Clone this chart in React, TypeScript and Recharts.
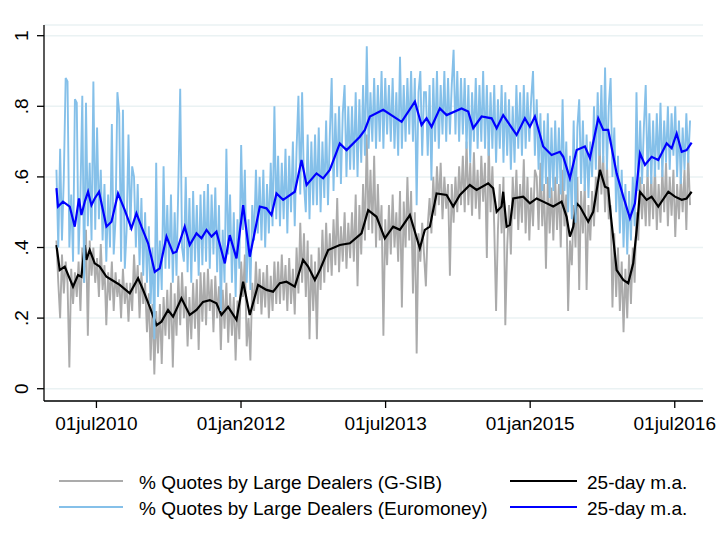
import React from 'react';
import { LineChart, Line, XAxis, YAxis, CartesianGrid } from 'recharts';

const FONT = '"Liberation Sans", Arial, Helvetica, sans-serif';

// Weekly sampling of the daily raw series, starting 1 Feb 2010 (decimal years)
const RAW_START = 2010.085;
const RAW_STEP = 7 / 365.25;

const gsibRaw = [
  .42,.30,.20,.38,.27,.36,.30,.06,.34,.24,.33,.26,.36,.22,.40,.30,.45,.15,.42,.32,
  .40,.30,.37,.26,.41,.28,.35,.18,.33,.25,.36,.22,.33,.26,.31,.20,.34,.24,.30,.19,
  .30,.22,.38,.27,.35,.20,.33,.24,.30,.16,.27,.08,.24,.04,.22,.10,.24,.07,.26,.15,
  .28,.14,.30,.06,.27,.15,.32,.18,.33,.20,.29,.12,.26,.14,.30,.17,.31,.11,.33,.19,
  .33,.18,.34,.22,.31,.16,.32,.20,.29,.11,.28,.17,.30,.13,.27,.15,.26,.08,.25,.14,
  .36,.26,.38,.12,.20,.08,.30,.22,.36,.24,.34,.21,.33,.23,.35,.20,.32,.22,.36,.24,
  .36,.24,.38,.25,.35,.22,.37,.24,.34,.21,.40,.27,.47,.30,.44,.26,.42,.14,.38,.22,
  .36,.14,.40,.28,.45,.30,.47,.33,.44,.32,.48,.35,.54,.33,.46,.36,.50,.34,.47,.37,
  .50,.36,.55,.29,.52,.38,.58,.42,.72,.45,.62,.44,.66,.40,.58,.42,.52,.15,.48,.35,
  .52,.38,.55,.40,.50,.36,.56,.23,.53,.40,.60,.42,.56,.27,.50,.10,.44,.36,.47,.38,
  .29,.46,.54,.44,.60,.49,.63,.52,.64,.48,.60,.51,.58,.32,.58,.47,.60,.50,.63,.52,
  .66,.50,.70,.52,.64,.49,.67,.51,.62,.48,.66,.53,.64,.37,.70,.50,.63,.46,.22,.45,
  .58,.44,.60,.18,.40,.52,.38,.60,.48,.62,.45,.58,.47,.65,.44,.60,.42,.57,.46,.62,
  .60,.45,.64,.46,.58,.34,.60,.44,.57,.42,.60,.45,.58,.40,.62,.46,.55,.22,.42,.35,
  .52,.40,.60,.28,.56,.44,.58,.28,.52,.42,.56,.46,.60,.50,.70,.55,.66,.50,.64,.48,
  .52,.23,.44,.26,.40,.22,.36,.16,.34,.20,.38,.24,.40,.30,.50,.42,.60,.48,.58,.46,
  .62,.46,.60,.48,.63,.45,.58,.47,.62,.50,.64,.46,.60,.49,.62,.43,.58,.48,.60,.50,
  .62,.45,.66,.52,
];

const euroRaw = [
  .62,.40,.68,.42,.60,.88,.87,.40,.55,.36,.82,.81,.38,.55,.83,.30,.81,.46,.64,.42,
  .87,.45,.74,.48,.62,.42,.58,.36,.55,.40,.75,.38,.48,.84,.78,.36,.79,.34,.45,.72,
  .45,.63,.60,.40,.58,.35,.54,.32,.50,.30,.46,.24,.40,.14,.64,.26,.42,.28,.63,.34,
  .52,.34,.55,.30,.50,.32,.58,.85,.40,.36,.60,.33,.54,.30,.56,.36,.52,.32,.55,.35,
  .56,.36,.58,.34,.55,.38,.57,.33,.52,.22,.45,.30,.68,.38,.55,.30,.50,.26,.48,.34,
  .69,.45,.62,.30,.48,.28,.52,.42,.62,.44,.60,.42,.62,.40,.58,.44,.64,.46,.80,.48,
  .66,.46,.64,.48,.68,.44,.66,.50,.70,.46,.68,.83,.55,.84,.58,.50,.72,.48,.70,.52,
  .72,.52,.74,.50,.70,.54,.76,.52,.72,.88,.56,.78,.60,.80,.58,.78,.86,.60,.80,.62,
  .80,.62,.84,.60,.82,.64,.86,.66,.97,.68,.84,.70,.88,.68,.86,.70,.90,.68,.88,.72,
  .86,.70,.88,.68,.84,.66,.94,.68,.86,.70,.88,.72,.90,.70,.88,.52,.84,.90,.66,.84,
  .84,.66,.86,.59,.88,.70,.90,.68,.86,.72,.90,.70,.88,.72,.86,.96,.72,.90,.70,.88,
  .72,.88,.68,.86,.64,.84,.70,.88,.68,.86,.70,.90,.68,.86,.66,.84,.68,.86,.64,.82,
  .68,.86,.64,.84,.66,.82,.62,.80,.64,.86,.68,.84,.66,.86,.68,.84,.70,.82,.90,.66,
  .82,.62,.78,.56,.76,.58,.78,.54,.74,.56,.76,.58,.74,.55,.82,.56,.70,.50,.66,.48,
  .76,.47,.74,.82,.58,.76,.56,.72,.54,.70,.60,.80,.62,.84,.66,.86,.64,.91,.62,.80,
  .88,.60,.74,.50,.66,.44,.62,.40,.58,.38,.56,.42,.60,.46,.84,.56,.76,.58,.74,.86,
  .60,.78,.58,.76,.60,.78,.62,.81,.60,.76,.64,.80,.62,.78,.66,.80,.60,.76,.58,.74,
  .62,.78,.64,.76,
];

// 25-day moving averages, read at irregular dates (decimal years)
const gsibMaDates = [
  2010.085,2010.119,2010.171,2010.257,2010.309,2010.344,2010.379,2010.396,2010.430,2010.482,
  2010.534,2010.604,2010.690,2010.742,2010.846,2010.932,2010.984,2011.053,2011.123,2011.175,
  2011.243,2011.295,2011.382,2011.468,2011.538,2011.606,2011.676,2011.745,2011.797,2011.866,
  2011.953,2012.022,2012.091,2012.177,2012.264,2012.333,2012.402,2012.472,2012.558,2012.644,
  2012.696,2012.766,2012.818,2012.904,2013.025,2013.129,2013.250,2013.319,2013.406,2013.492,
  2013.578,2013.648,2013.752,2013.855,2013.907,2013.959,2014.029,2014.133,2014.201,2014.271,
  2014.374,2014.444,2014.564,2014.616,2014.652,2014.703,2014.720,2014.755,2014.790,2014.824,
  2014.928,2014.997,2015.067,2015.135,2015.239,2015.326,2015.378,2015.412,2015.447,2015.482,
  2015.516,2015.602,2015.654,2015.724,2015.776,2015.810,2015.827,2015.897,2015.966,2016.017,
  2016.069,2016.105,2016.139,2016.208,2016.260,2016.329,2016.433,2016.502,2016.572,2016.623,
  2016.675,
];
const gsibMa = [
  .407,.336,.346,.289,.322,.317,.407,.365,.393,.355,
  .346,.317,.303,.294,.270,.313,.280,.232,.180,.190,
  .223,.204,.256,.209,.223,.246,.251,.242,.209,.232,
  .195,.303,.209,.294,.280,.275,.299,.303,.289,.365,
  .346,.308,.336,.393,.407,.412,.440,.506,.487,.426,
  .459,.450,.492,.398,.450,.459,.553,.549,.516,.549,
  .577,.563,.582,.568,.501,.516,.558,.459,.464,.539,
  .544,.525,.539,.530,.516,.530,.487,.431,.459,.525,
  .516,.473,.501,.620,.572,.568,.516,.336,.308,.299,
  .355,.450,.558,.535,.544,.516,.558,.544,.535,.539,
  .558,
];

const euroMaDates = [
  2010.085,2010.101,2010.153,2010.223,2010.275,2010.319,2010.344,2010.379,2010.413,2010.448,
  2010.482,2010.527,2010.604,2010.656,2010.724,2010.794,2010.863,2010.915,2010.967,2011.036,
  2011.105,2011.157,2011.227,2011.295,2011.330,2011.416,2011.468,2011.538,2011.590,2011.642,
  2011.694,2011.745,2011.832,2011.883,2011.953,2012.022,2012.091,2012.195,2012.264,2012.316,
  2012.368,2012.437,2012.558,2012.628,2012.680,2012.783,2012.852,2012.921,2013.025,2013.095,
  2013.233,2013.285,2013.337,2013.475,2013.666,2013.804,2013.873,2013.925,2013.977,2014.063,
  2014.133,2014.288,2014.357,2014.409,2014.496,2014.600,2014.652,2014.720,2014.790,2014.859,
  2014.945,2014.997,2015.049,2015.135,2015.222,2015.309,2015.343,2015.412,2015.482,2015.568,
  2015.620,2015.706,2015.758,2015.810,2015.897,2015.966,2016.035,2016.087,2016.139,2016.191,
  2016.260,2016.329,2016.416,2016.468,2016.520,2016.572,2016.623,2016.675,
];
const euroMa = [
  .568,.516,.530,.516,.459,.539,.492,.530,.558,.520,
  .539,.558,.459,.473,.553,.506,.454,.497,.459,.412,
  .331,.341,.431,.384,.388,.459,.407,.440,.426,.450,
  .431,.445,.355,.435,.369,.520,.374,.516,.511,.492,
  .553,.535,.558,.648,.577,.610,.596,.620,.695,.676,
  .714,.733,.771,.790,.756,.813,.747,.766,.742,.794,
  .775,.794,.785,.738,.771,.766,.738,.775,.747,.719,
  .766,.742,.771,.686,.662,.671,.657,.596,.676,.686,
  .653,.766,.733,.733,.610,.544,.483,.525,.667,.634,
  .657,.648,.695,.681,.723,.671,.676,.697,
];

const xTicks = [2010.5, 2012.0, 2013.5, 2015.0, 2016.5];
const xTickLabels = ['01jul2010', '01jan2012', '01jul2013', '01jan2015', '01jul2016'];
const yTicks = [0, 0.2, 0.4, 0.6, 0.8, 1];
const yTickLabels = ['0', '.2', '.4', '.6', '.8', '1'];

const legendLabels = [
  '% Quotes by Large Dealers (G-SIB)',
  '25-day m.a.',
  '% Quotes by Large Dealers (Euromoney)',
  '25-day m.a.',
];

const COLORS = {
  gsib: '#ABABAB',
  gsibMa: '#000000',
  euro: '#85C0E9',
  euroMa: '#0000FF',
};

const rawData = gsibRaw.map((v, i) => ({
  t: RAW_START + i * RAW_STEP,
  gsib: v,
  euro: euroRaw[i],
}));
const gsibMaData = gsibMaDates.map((t, i) => ({ t, v: gsibMa[i] }));
const euroMaData = euroMaDates.map((t, i) => ({ t, v: euroMa[i] }));

const YTick = (props: any) => {
  const { x, y, payload } = props;
  const idx = yTicks.indexOf(payload.value);
  return (
    <text
      transform={`translate(${x},${y}) rotate(-90)`}
      textAnchor="middle"
      dy={-7.5}
      fontSize={19}
      fontFamily={FONT}
      fill="#000"
    >
      {idx >= 0 ? yTickLabels[idx] : ''}
    </text>
  );
};

const Legend2 = () => {
  const rows = [
    { y: 481, left: COLORS.gsib, leftLabel: legendLabels[0], right: COLORS.gsibMa, rightLabel: legendLabels[1] },
    { y: 507, left: COLORS.euro, leftLabel: legendLabels[2], right: COLORS.euroMa, rightLabel: legendLabels[3] },
  ];
  return (
    <svg width={718} height={80} style={{ position: 'absolute', left: 0, top: 455 }}>
      {rows.map((r, i) => (
        <g key={i} transform={`translate(0, ${r.y - 455})`}>
          <line x1={59} x2={123} y1={0} y2={0} stroke={r.left} strokeWidth={2} />
          <text x={139} y={1.5} dominantBaseline="central" fontSize={19} fontFamily={FONT} fill="#000">
            {r.leftLabel}
          </text>
          <line x1={510} x2={577} y1={0} y2={0} stroke={r.right} strokeWidth={2} />
          <text x={587} y={1.5} dominantBaseline="central" fontSize={19} fontFamily={FONT} fill="#000">
            {r.rightLabel}
          </text>
        </g>
      ))}
    </svg>
  );
};

export default function App() {
  return (
    <div style={{ position: 'absolute', left: 0, top: 0, width: 718, height: 545, background: '#fff' }}>
      <LineChart width={718} height={545} margin={{ top: 25, right: 15, bottom: 104, left: 0 }}>
        <CartesianGrid horizontal={true} vertical={false} stroke="#EAF2F3" strokeWidth={1.5} />
        <XAxis
          type="number"
          dataKey="t"
          domain={[2009.956, 2016.793]}
          allowDataOverflow
          ticks={xTicks}
          tickFormatter={(v: number) => {
            const idx = xTicks.indexOf(v);
            return idx >= 0 ? xTickLabels[idx] : '';
          }}
          tick={{ fontSize: 19, fontFamily: FONT, fill: '#000' }}
          tickSize={7}
          tickMargin={9}
          height={40}
          axisLine={{ stroke: '#000', strokeWidth: 1.3 }}
          tickLine={{ stroke: '#000', strokeWidth: 1.3 }}
        />
        <YAxis
          type="number"
          domain={[-0.0348, 1.0303]}
          allowDataOverflow
          ticks={yTicks}
          width={44}
          tickSize={7}
          tickMargin={2}
          tick={<YTick />}
          axisLine={{ stroke: '#000', strokeWidth: 1.3 }}
          tickLine={{ stroke: '#000', strokeWidth: 1.3 }}
        />
        <Line data={rawData} dataKey="gsib" stroke={COLORS.gsib} strokeWidth={1.9} strokeLinejoin="miter" dot={false} isAnimationActive={false} />
        <Line data={gsibMaData} dataKey="v" stroke={COLORS.gsibMa} strokeWidth={2.2} dot={false} isAnimationActive={false} />
        <Line data={rawData} dataKey="euro" stroke={COLORS.euro} strokeWidth={1.9} strokeLinejoin="miter" dot={false} isAnimationActive={false} />
        <Line data={euroMaData} dataKey="v" stroke={COLORS.euroMa} strokeWidth={2.2} dot={false} isAnimationActive={false} />
      </LineChart>
      <Legend2 />
    </div>
  );
}
